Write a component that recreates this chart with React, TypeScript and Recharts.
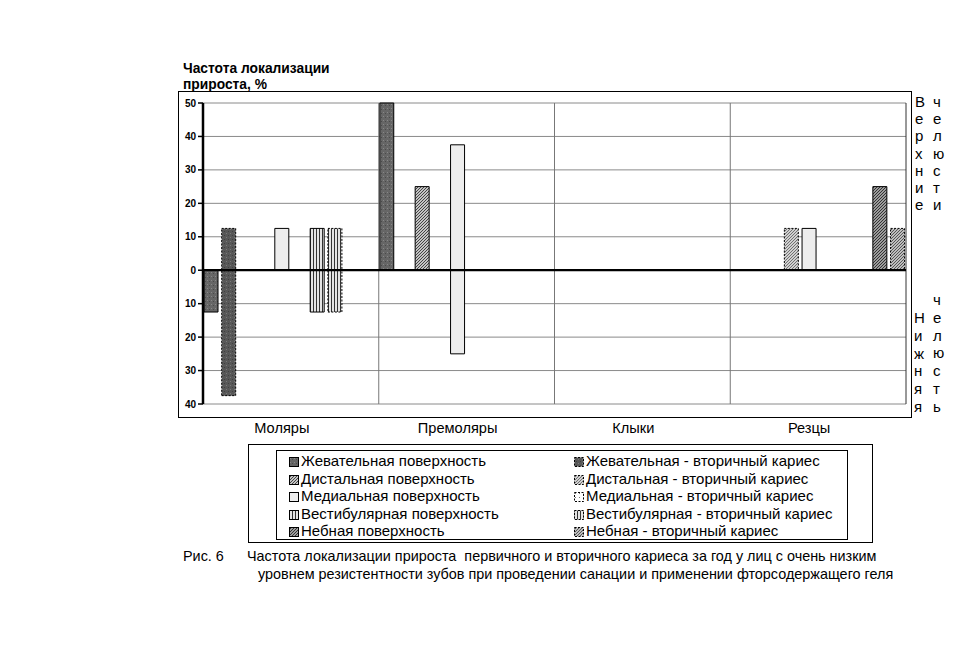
import React from "react";
import { BarChart, Bar, XAxis, YAxis, CartesianGrid, ReferenceLine } from "recharts";

const categories = ["Моляры", "Премоляры", "Клыки", "Резцы"];

const seriesNames = [
  "Жевательная поверхность",
  "Жевательная - вторичный кариес",
  "Дистальная поверхность",
  "Дистальная - вторичный кариес",
  "Медиальная поверхность",
  "Медиальная - вторичный кариес",
  "Вестибулярная поверхность",
  "Вестибулярная - вторичный кариес",
  "Небная поверхность",
  "Небная - вторичный кариес",
];

// верхняя челюсть (вверх от нуля), по категориям
const upperJaw = [
  [0, 50, 0, 0],
  [12.5, 0, 0, 0],
  [0, 25, 0, 0],
  [0, 0, 0, 12.5],
  [12.5, 37.5, 0, 12.5],
  [0, 0, 0, 0],
  [12.5, 0, 0, 0],
  [12.5, 0, 0, 0],
  [0, 0, 0, 25],
  [0, 0, 0, 12.5],
];

// нижняя челюсть (вниз от нуля)
const lowerJaw = [
  [-12.5, 0, 0, 0],
  [-37.5, 0, 0, 0],
  [0, 0, 0, 0],
  [0, 0, 0, 0],
  [0, -25, 0, 0],
  [0, 0, 0, 0],
  [-12.5, 0, 0, 0],
  [-12.5, 0, 0, 0],
  [0, 0, 0, 0],
  [0, 0, 0, 0],
];

const yTicks = [-40, -30, -20, -10, 0, 10, 20, 30, 40, 50];
const bandEdges = [1, 2, 3];

const upperWord1 = "Верхние";
const upperWord2 = "челюсти";
const lowerWord1 = "Нижняя";
const lowerWord2 = "челюсть";

const captionLabel = "Рис. 6";
const captionLine1 =
  "Частота локализации прироста  первичного и вторичного кариеса за год у лиц с очень низким";
const captionLine2 =
  "уровнем резистентности зубов при проведении санации и применении фторсодержащего геля";

const fills = [
  "url(#p-chew)",
  "url(#p-chew2)",
  "url(#p-dist)",
  "url(#p-dist2)",
  "#ededed",
  "url(#p-med2)",
  "url(#p-vest)",
  "url(#p-vest)",
  "url(#p-pal)",
  "url(#p-pal2)",
];

const font = "Arial, 'Liberation Sans', sans-serif";

const data = categories.map((name, c) => {
  const row: Record<string, number | string> = { name };
  seriesNames.forEach((_, i) => {
    row[`u${i}`] = upperJaw[i][c];
    row[`l${i}`] = lowerJaw[i][c];
  });
  return row;
});

function Swatch({ i }: { i: number }) {
  const dashed = i % 2 === 1;
  return (
    <svg width={10} height={10} style={{ marginRight: 2, verticalAlign: "-1px" }}>
      <rect
        x={0.5}
        y={0.5}
        width={9}
        height={9}
        fill={fills[i]}
        stroke="#000"
        strokeWidth={1}
        strokeDasharray={dashed ? "2 1.5" : undefined}
      />
    </svg>
  );
}

export default function App() {
  const abs = { position: "absolute" as const };
  return (
    <div style={{ ...abs, left: 0, top: 0, width: 959, height: 650, background: "#fff", fontFamily: font, color: "#000" }}>
      <div style={{ ...abs, left: 183, top: 61, fontSize: 13.8, fontWeight: "bold", lineHeight: "16px" }}>
        Частота локализации
        <br />
        прироста, %
      </div>

      <div style={{ ...abs, left: 178, top: 91, width: 734, height: 327, border: "1px solid #000", boxSizing: "border-box" }} />

      <div style={{ ...abs, left: 178, top: 91 }}>
        <BarChart
          width={734}
          height={350}
          data={data}
          stackOffset="sign"
          barSize={14}
          barGap={3.7}
          margin={{ top: 12, right: 6, left: 0, bottom: 7 }}
        >
          <defs>
            <pattern id="p-chew" width="4" height="4" patternUnits="userSpaceOnUse">
              <rect width="4" height="4" fill="#666" />
              <rect x="1" y="1" width="1" height="1" fill="#888" />
              <rect x="3" y="2" width="1" height="1" fill="#4a4a4a" />
            </pattern>
            <pattern id="p-chew2" width="4" height="4" patternUnits="userSpaceOnUse">
              <rect width="4" height="4" fill="#585858" />
              <rect x="0" y="2" width="1" height="1" fill="#7a7a7a" />
              <rect x="2" y="0" width="1" height="1" fill="#404040" />
            </pattern>
            <pattern id="p-dist" width="3" height="3" patternUnits="userSpaceOnUse">
              <rect width="3" height="3" fill="#c4c4c4" />
              <path d="M0,3 L3,0" stroke="#444" strokeWidth="1" />
            </pattern>
            <pattern id="p-dist2" width="3" height="3" patternUnits="userSpaceOnUse">
              <rect width="3" height="3" fill="#d0d0d0" />
              <path d="M0,3 L3,0" stroke="#666" strokeWidth="0.9" />
            </pattern>
            <pattern id="p-med2" width="4" height="4" patternUnits="userSpaceOnUse">
              <rect width="4" height="4" fill="#fff" />
              <rect x="1" y="1" width="1" height="1" fill="#777" />
            </pattern>
            <pattern id="p-vest" width="3" height="3" patternUnits="userSpaceOnUse">
              <rect width="3" height="3" fill="#e4e4e4" />
              <rect x="0" y="0" width="1" height="3" fill="#333" />
            </pattern>
            <pattern id="p-pal" width="3" height="3" patternUnits="userSpaceOnUse">
              <rect width="3" height="3" fill="#9c9c9c" />
              <path d="M0,3 L3,0" stroke="#333" strokeWidth="1" />
            </pattern>
            <pattern id="p-pal2" width="3" height="3" patternUnits="userSpaceOnUse">
              <rect width="3" height="3" fill="#bdbdbd" />
              <path d="M0,3 L3,0" stroke="#555" strokeWidth="1" />
            </pattern>
          </defs>
          <CartesianGrid vertical={false} stroke="#8a8a8a" strokeWidth={1} />
          <XAxis
            dataKey="name"
            height={30}
            axisLine={false}
            tickLine={false}
            tickSize={0}
            tickMargin={19}
            tick={{ fill: "#000", fontSize: 14.6, fontFamily: font, dx: -9 }}
          />
          <XAxis
            xAxisId="edges"
            dataKey="edge"
            type="number"
            domain={[0, 4]}
            allowDataOverflow
            hide
          />
          <YAxis
            width={25}
            domain={[-40, 50]}
            ticks={yTicks}
            interval={0}
            tickFormatter={(v: number) => String(Math.abs(v))}
            axisLine={{ stroke: "#000", strokeWidth: 2.5 }}
            tickLine={{ stroke: "#000", strokeWidth: 1.5 }}
            tickSize={5}
            tickMargin={2}
            tick={{ fill: "#000", fontSize: 10, fontWeight: "bold", fontFamily: font }}
          />
          {bandEdges.map((e) => (
            <ReferenceLine key={e} xAxisId="edges" x={e} stroke="#777" strokeWidth={1} />
          ))}
          <ReferenceLine xAxisId="edges" x={4} stroke="#333" strokeWidth={1} />
          {seriesNames.flatMap((n, i) => {
            const dashed = i % 2 === 1;
            const common = {
              stackId: `s${i}`,
              fill: fills[i],
              stroke: "#000",
              strokeWidth: 1,
              strokeDasharray: dashed ? "2 1.5" : undefined,
              isAnimationActive: false,
            };
            return [
              <Bar key={`u${i}`} dataKey={`u${i}`} name={n} {...common} />,
              <Bar key={`l${i}`} dataKey={`l${i}`} name={n} {...common} />,
            ];
          })}
          <ReferenceLine y={0} stroke="#000" strokeWidth={2.2} />
        </BarChart>
      </div>

      {upperWord1.split("").map((ch, k) => (
        <div key={`a${k}`} style={{ ...abs, left: 915, top: 93 + k * 17.2, fontSize: 15, lineHeight: "17px" }}>{ch}</div>
      ))}
      {upperWord2.split("").map((ch, k) => (
        <div key={`b${k}`} style={{ ...abs, left: 933, top: 93 + k * 17.2, fontSize: 15, lineHeight: "17px" }}>{ch}</div>
      ))}
      {lowerWord1.split("").map((ch, k) => (
        <div key={`c${k}`} style={{ ...abs, left: 914, top: 309 + k * 17.8, fontSize: 15, lineHeight: "17px" }}>{ch}</div>
      ))}
      {lowerWord2.split("").map((ch, k) => (
        <div key={`d${k}`} style={{ ...abs, left: 933, top: 291 + k * 17.8, fontSize: 15, lineHeight: "17px" }}>{ch}</div>
      ))}

      <div style={{ ...abs, left: 248, top: 444, width: 625, height: 99, border: "1px solid #000", boxSizing: "border-box" }} />
      <div style={{ ...abs, left: 276, top: 450, width: 572, height: 90, border: "1px solid #000", boxSizing: "border-box" }} />
      <div style={{ ...abs, left: 289, top: 452, fontSize: 15, lineHeight: "17.6px" }}>
        {seriesNames.map((n, i) =>
          i % 2 === 0 ? (
            <div key={n} style={{ whiteSpace: "nowrap" }}>
              <Swatch i={i} />
              {n}
            </div>
          ) : null
        )}
      </div>
      <div style={{ ...abs, left: 574, top: 452, fontSize: 15, lineHeight: "17.6px" }}>
        {seriesNames.map((n, i) =>
          i % 2 === 1 ? (
            <div key={n} style={{ whiteSpace: "nowrap" }}>
              <Swatch i={i} />
              {n}
            </div>
          ) : null
        )}
      </div>

      <div style={{ ...abs, left: 183, top: 547, fontSize: 14.4, lineHeight: "18px" }}>{captionLabel}</div>
      <div style={{ ...abs, left: 247, top: 547, fontSize: 14.4, lineHeight: "18px", whiteSpace: "pre" }}>{captionLine1}</div>
      <div style={{ ...abs, left: 258, top: 565, fontSize: 14.4, lineHeight: "18px", whiteSpace: "pre" }}>{captionLine2}</div>
    </div>
  );
}
